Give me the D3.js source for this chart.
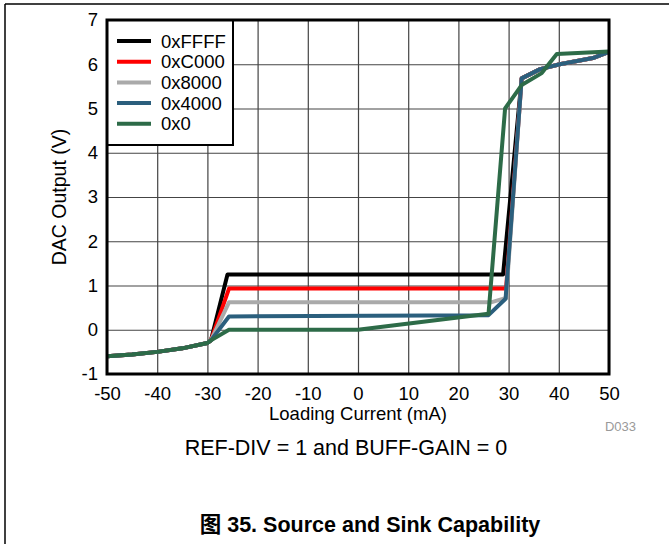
<!DOCTYPE html>
<html>
<head>
<meta charset="utf-8">
<script src="https://cdn.jsdelivr.net/npm/d3@7"></script>
<style>
  body { margin: 0; background: #fff; }
  svg { display: block; font-family: "Liberation Sans", Arial, sans-serif; }
</style>
</head>
<body>
<svg id="chart" width="669" height="544"></svg>
<script>
// tick labels
var xTicks = [-50, -40, -30, -20, -10, 0, 10, 20, 30, 40, 50];
var yTicks = [-1, 0, 1, 2, 3, 4, 5, 6, 7];

// series names, in legend order
var codes = ["0xFFFF", "0xC000", "0x8000", "0x4000", "0x0"];
var colors = ["#000000", "#ff0000", "#aaaaaa", "#2b5f7d", "#2d6b48"];

// loading current (mA) and DAC output (V)
var currentFFFF = [-50, -45, -40, -35, -30, -29.3, -26, 28.9, 32.6, 36.3, 40.2, 46.8, 50];
var outputFFFF  = [-0.6, -0.56, -0.5, -0.42, -0.3, -0.24, 1.25, 1.25, 5.68, 5.89, 6.0, 6.14, 6.28];

var currentC000 = [-50, -45, -40, -35, -30, -29.3, -25.7, 29.5, 32.6, 36.3, 40.2, 46.8, 50];
var outputC000  = [-0.6, -0.56, -0.5, -0.42, -0.3, -0.24, 0.93, 0.93, 5.68, 5.89, 6.0, 6.14, 6.28];

var current8000 = [-50, -45, -40, -35, -30, -29.3, -25.7, 26.5, 29.5, 32.6, 36.3, 40.2, 46.8, 50];
var output8000  = [-0.6, -0.56, -0.5, -0.42, -0.3, -0.24, 0.62, 0.62, 0.72, 5.68, 5.89, 6.0, 6.14, 6.28];

var current4000 = [-50, -45, -40, -35, -30, -29.3, -25.7, 26, 29.4, 32.6, 36.3, 40.2, 46.8, 50];
var output4000  = [-0.6, -0.56, -0.5, -0.42, -0.3, -0.24, 0.3, 0.33, 0.7, 5.68, 5.89, 6.0, 6.14, 6.28];

var current0 = [-50, -45, -40, -35, -30, -29.3, -25.7, 0, 26, 29.3, 32.6, 36.6, 39.6, 50];
var output0  = [-0.6, -0.56, -0.5, -0.42, -0.3, -0.24, 0, 0, 0.36, 5.0, 5.53, 5.8, 6.23, 6.29];

var currents = [currentFFFF, currentC000, current8000, current4000, current0];
var outputs = [outputFFFF, outputC000, output8000, output4000, output0];

var margin = { top: 20, left: 107, right: 60, bottom: 170 };
var svg = d3.select("#chart");
var width = 669 - margin.left - margin.right;   // 502
var height = 544 - margin.top - margin.bottom;  // 354

// plain hyphen for negatives, like the original
var fmt = function(d) { return String(d); };

// outer page frame (top and left rules)
svg.append("line").attr("x1", 5).attr("y1", 4).attr("x2", 669).attr("y2", 4)
    .attr("stroke", "#000").attr("stroke-width", 1.5);
svg.append("line").attr("x1", 5).attr("y1", 4).attr("x2", 5).attr("y2", 544)
    .attr("stroke", "#000").attr("stroke-width", 1.5);

var x = d3.scaleLinear().domain([-50, 50]).range([0, width]);
var y = d3.scaleLinear().domain([-1, 7]).range([height, 0]);

var g = svg.append("g")
    .attr("transform", "translate(" + margin.left + "," + margin.top + ")");

// grid
g.append("g")
    .attr("transform", "translate(0," + height + ")")
    .call(d3.axisBottom(x).tickValues(xTicks).tickSize(-height).tickFormat(""))
    .call(function(s) { s.select(".domain").remove(); })
    .selectAll("line").attr("stroke", "#444").attr("stroke-width", 1.2);
g.append("g")
    .call(d3.axisLeft(y).tickValues(yTicks).tickSize(-width).tickFormat(""))
    .call(function(s) { s.select(".domain").remove(); })
    .selectAll("line").attr("stroke", "#444").attr("stroke-width", 1.2);

// tick labels
var xa = g.append("g")
    .attr("transform", "translate(0," + height + ")")
    .call(d3.axisBottom(x).tickValues(xTicks).tickFormat(fmt).tickSize(0).tickPadding(13));
xa.select(".domain").remove();
xa.selectAll("text").attr("font-size", 18.5).attr("fill", "#000")
    .style("font-family", "Liberation Sans, Arial, sans-serif");

var ya = g.append("g")
    .call(d3.axisLeft(y).tickValues(yTicks).tickFormat(fmt).tickSize(0).tickPadding(9));
ya.select(".domain").remove();
ya.selectAll("text").attr("font-size", 18.5).attr("fill", "#000")
    .style("font-family", "Liberation Sans, Arial, sans-serif");

// curves
g.append("clipPath").attr("id", "plotclip")
    .append("rect").attr("width", width).attr("height", height);

var line = d3.line()
    .x(function(d) { return x(d[0]); })
    .y(function(d) { return y(d[1]); });

codes.forEach(function(c, i) {
    var pts = d3.zip(currents[i], outputs[i]);
    g.append("path")
        .datum(pts)
        .attr("clip-path", "url(#plotclip)")
        .attr("fill", "none")
        .attr("stroke", colors[i])
        .attr("stroke-width", 4)
        .attr("stroke-linejoin", "round")
        .attr("d", line);
});

// legend
var leg = g.append("g");
leg.append("rect")
    .attr("x", 0).attr("y", 0).attr("width", 126).attr("height", 125)
    .attr("fill", "#fff").attr("stroke", "#000").attr("stroke-width", 2);
codes.forEach(function(c, i) {
    var ly = 21 + i * 20.7;
    leg.append("line")
        .attr("x1", 10).attr("x2", 44).attr("y1", ly).attr("y2", ly)
        .attr("stroke", colors[i]).attr("stroke-width", 4);
    leg.append("text")
        .attr("x", 54).attr("y", ly + 6.5)
        .attr("font-size", 18.5)
        .text(c);
});

// plot frame
g.append("rect")
    .attr("width", width).attr("height", height)
    .attr("fill", "none").attr("stroke", "#000").attr("stroke-width", 3);

// axis titles
svg.append("text")
    .attr("x", margin.left + width / 2).attr("y", 420)
    .attr("text-anchor", "middle").attr("font-size", 18.5)
    .text("Loading Current (mA)");
svg.append("text")
    .attr("transform", "translate(66," + (margin.top + 177) + ") rotate(-90)")
    .attr("text-anchor", "middle").attr("font-size", 19.5)
    .text("DAC Output (V)");

svg.append("text")
    .attr("x", 636).attr("y", 431)
    .attr("text-anchor", "end").attr("font-size", 13).attr("fill", "#999")
    .text("D033");

svg.append("text")
    .attr("x", 346).attr("y", 455)
    .attr("text-anchor", "middle").attr("font-size", 21.5)
    .text("REF-DIV = 1 and BUFF-GAIN = 0");

svg.append("text")
    .attr("x", 370).attr("y", 532)
    .attr("text-anchor", "middle").attr("font-size", 21.5).attr("font-weight", "bold")
    .style("font-family", "Liberation Sans, 'Noto Sans CJK SC', Arial, sans-serif")
    .text("图 35. Source and Sink Capability");
</script>
</body>
</html>
